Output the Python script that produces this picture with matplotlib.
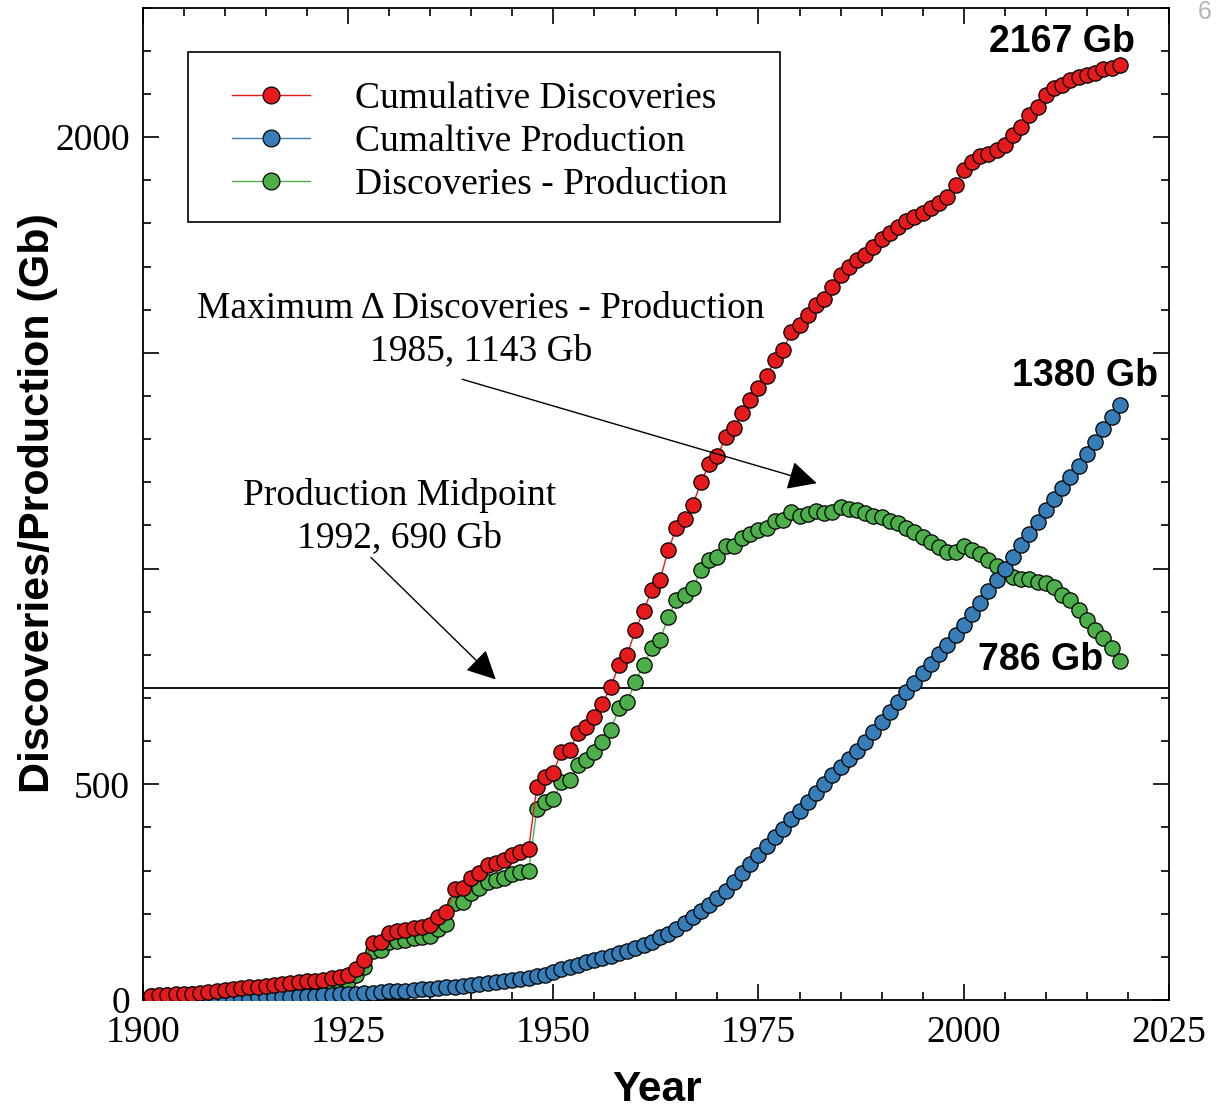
import matplotlib
matplotlib.use("Agg")
import matplotlib.pyplot as plt
from matplotlib.patches import Rectangle
from matplotlib.ticker import FixedLocator, MultipleLocator, FixedFormatter

# ---------------- data ----------------
years = list(range(1901, 2020))

cum_discoveries = [
    10, 11, 12, 13, 14, 15, 17, 19, 21, 23,
    25, 27, 29, 31, 33, 35, 37, 39, 41, 43,
    45, 47, 50, 54, 58, 73, 93, 131, 135, 155,
    159, 162, 166, 170, 174, 193, 205, 257, 259, 282,
    294, 313, 318, 324, 336, 344, 349, 494, 518, 527,
    575, 579, 618, 633, 657, 686, 726, 776, 800, 857,
    902, 950, 973, 1043, 1093, 1116, 1147, 1201, 1242, 1261,
    1305, 1325, 1361, 1390, 1418, 1446, 1483, 1506, 1549, 1564,
    1587, 1611, 1626, 1653, 1680, 1700, 1715, 1727, 1746, 1763,
    1777, 1792, 1806, 1815, 1825, 1835, 1848, 1862, 1889, 1924,
    1943, 1956, 1962, 1970, 1981, 2005, 2024, 2051, 2070, 2097,
    2113, 2121, 2132, 2140, 2144, 2149, 2157, 2161, 2167,
]

cum_production = [
    1, 1, 1, 2, 2, 2, 3, 3, 3, 4,
    4, 5, 5, 6, 6, 7, 7, 8, 9, 9,
    10, 11, 12, 13, 14, 15, 16, 17, 18, 20,
    21, 22, 23, 25, 26, 28, 29, 31, 33, 35,
    37, 39, 41, 43, 46, 49, 52, 55, 59, 64,
    72, 77, 82, 87, 92, 97, 102, 108, 114, 120,
    127, 135, 145, 153, 164, 178, 192, 206, 220, 236,
    253, 274, 294, 315, 336, 357, 377, 396, 419, 439,
    460, 479, 501, 521, 539, 558, 578, 599, 622, 645,
    668, 691, 714, 735, 757, 779, 802, 824, 847, 870,
    895, 921, 947, 973, 1000, 1027, 1054, 1081, 1108, 1135,
    1161, 1187, 1213, 1239, 1265, 1294, 1323, 1351, 1380,
]

disc_minus_prod = [
    9, 10, 11, 11, 12, 13, 14, 16, 18, 19,
    21, 22, 24, 25, 27, 28, 30, 31, 32, 34,
    35, 36, 38, 41, 44, 58, 77, 114, 117, 135,
    137, 140, 143, 146, 149, 165, 177, 226, 228, 247,
    259, 274, 278, 282, 292, 296, 299, 442, 460, 465,
    506, 510, 545, 556, 575, 599, 626, 676, 691, 738,
    776, 815, 834, 888, 927, 939, 955, 997, 1020, 1026,
    1052, 1053, 1070, 1080, 1089, 1095, 1110, 1112, 1132, 1122,
    1126, 1134, 1130, 1132, 1143, 1139, 1136, 1128, 1122, 1120,
    1111, 1105, 1093, 1085, 1074, 1062, 1051, 1039, 1039, 1052,
    1044, 1035, 1021, 1006, 993, 981, 977, 977, 969, 966,
    958, 939, 927, 904, 881, 857, 838, 815, 786,
]

series_labels = ["Cumulative Discoveries", "Cumaltive Production", "Discoveries - Production"]
midpoint_level = 724

x_ticks = [1900, 1925, 1950, 1975, 2000, 2025]
x_tick_labels = ["1900", "1925", "1950", "1975", "2000", "2025"]
y_ticks = [0, 500, 1000, 1500, 2000]
y_tick_labels = ["0", "500", "", "", "2000"]

end_labels = ["2167 Gb", "1380 Gb", "786 Gb"]

# ---------------- style ----------------
RED = "#e41a1c"
BLUE = "#377eb8"
GREEN = "#4daf4a"
SERIF = ["Liberation Serif", "DejaVu Serif"]
SANS = ["Liberation Sans", "DejaVu Sans"]

W, H = 1217, 1108
fig = plt.figure(figsize=(W / 100, H / 100), dpi=100)
ax_left, ax_right, ax_top, ax_bottom = 142.7, 1169.0, 7.8, 1000.0
ax = fig.add_axes([ax_left / W, 1 - ax_bottom / H,
                   (ax_right - ax_left) / W, (ax_bottom - ax_top) / H])

def pxax(px, py):
    return ((px - ax_left) / (ax_right - ax_left),
            (ax_bottom - py) / (ax_bottom - ax_top))

mk = dict(marker="o", markersize=11, markeredgecolor="black",
          markeredgewidth=0.9, linewidth=1.0)
l_green, = ax.plot(years, disc_minus_prod, color=GREEN, markerfacecolor=GREEN,
                   zorder=3, label=series_labels[2], **mk)
l_blue, = ax.plot(years, cum_production, color=BLUE, markerfacecolor=BLUE,
                  zorder=4, label=series_labels[1], **mk)
l_red, = ax.plot(years, cum_discoveries, color=RED, markerfacecolor=RED,
                 zorder=5, label=series_labels[0], **mk)

ax.axhline(midpoint_level, color="black", lw=1.3, zorder=2)

ax.set_xlim(1900, 2025)
ax.set_ylim(0, 2300)

ax.xaxis.set_major_locator(FixedLocator(x_ticks))
ax.xaxis.set_major_formatter(FixedFormatter(x_tick_labels))
ax.xaxis.set_minor_locator(MultipleLocator(5))
ax.yaxis.set_major_locator(FixedLocator(y_ticks))
ax.yaxis.set_major_formatter(FixedFormatter(y_tick_labels))
ax.yaxis.set_minor_locator(MultipleLocator(100))

ax.tick_params(which="both", direction="in", top=True, right=True, width=1.2,
               colors="black")
ax.tick_params(which="major", length=11.5)
ax.tick_params(which="minor", length=6)
ax.tick_params(axis="y", which="major", pad=9)
ax.tick_params(axis="x", which="major", pad=11)
for lab in ax.get_xticklabels() + ax.get_yticklabels():
    lab.set_fontfamily(SERIF)
    lab.set_fontsize(27)
for s in ax.spines.values():
    s.set_linewidth(1.3)

# axis labels
ax.set_xlabel("Year", fontfamily=SANS, fontweight="bold", fontsize=30.5)
ax.set_ylabel("Discoveries/Production (Gb)", fontfamily=SANS, fontweight="bold",
              fontsize=31)
ax.xaxis.set_label_coords(*pxax(657, 1090))
ax.yaxis.set_label_coords(*pxax(38, 503))
ax.xaxis.label.set_va("center")
ax.yaxis.label.set_va("center")

# legend
leg = ax.legend(handles=[l_red, l_blue, l_green], loc="upper left",
                bbox_to_anchor=pxax(232, 82), borderaxespad=0, borderpad=0,
                frameon=False, handlelength=2.08, handletextpad=1.2,
                labelspacing=0.22, markerscale=1.1,
                prop={"family": SERIF, "size": 27})
leg.set_zorder(10)
x0, y0 = pxax(188, 222)
x1, y1 = pxax(780, 52)
ax.add_patch(Rectangle((x0, y0), x1 - x0, y1 - y0, transform=ax.transAxes,
                       facecolor="white", edgecolor="black", lw=1.2, zorder=9))

# end value labels
bold = dict(fontfamily=SANS, fontweight="bold", fontsize=27, ha="right",
            va="center", zorder=11)
ax.text(2020.9, 2221, end_labels[0], **bold)
ax.text(2023.6, 1446, end_labels[1], **bold)
ax.text(2017.0, 788, end_labels[2], **bold)

# annotations
ax.text(1941.2, 1553, "Maximum \u0394 Discoveries - Production\n1985, 1143 Gb",
        fontfamily=SERIF, fontsize=27, ha="center", va="center",
        multialignment="center", linespacing=1.27, zorder=11)
ax.text(1931.3, 1121, "Production Midpoint\n1992, 690 Gb",
        fontfamily=SERIF, fontsize=27, ha="center", va="center",
        multialignment="center", linespacing=1.27, zorder=11)

arrowprops = dict(arrowstyle="-|>,head_length=0.9,head_width=0.45",
                  mutation_scale=20, color="black", lw=1.0,
                  shrinkA=0, shrinkB=0)
ax.annotate("", xy=(1982.1, 1198), xytext=(1938.9, 1439),
            arrowprops=arrowprops, zorder=11)
ax.annotate("", xy=(1943.0, 743), xytext=(1927.8, 1026),
            arrowprops=arrowprops, zorder=11)

# page number fragment at top-right
fig.text(1198 / W, 1.0, "6", color="#b5b5b5", fontsize=18,
         fontfamily=SANS, ha="left", va="top")

fig.savefig("out.png", dpi=100)
